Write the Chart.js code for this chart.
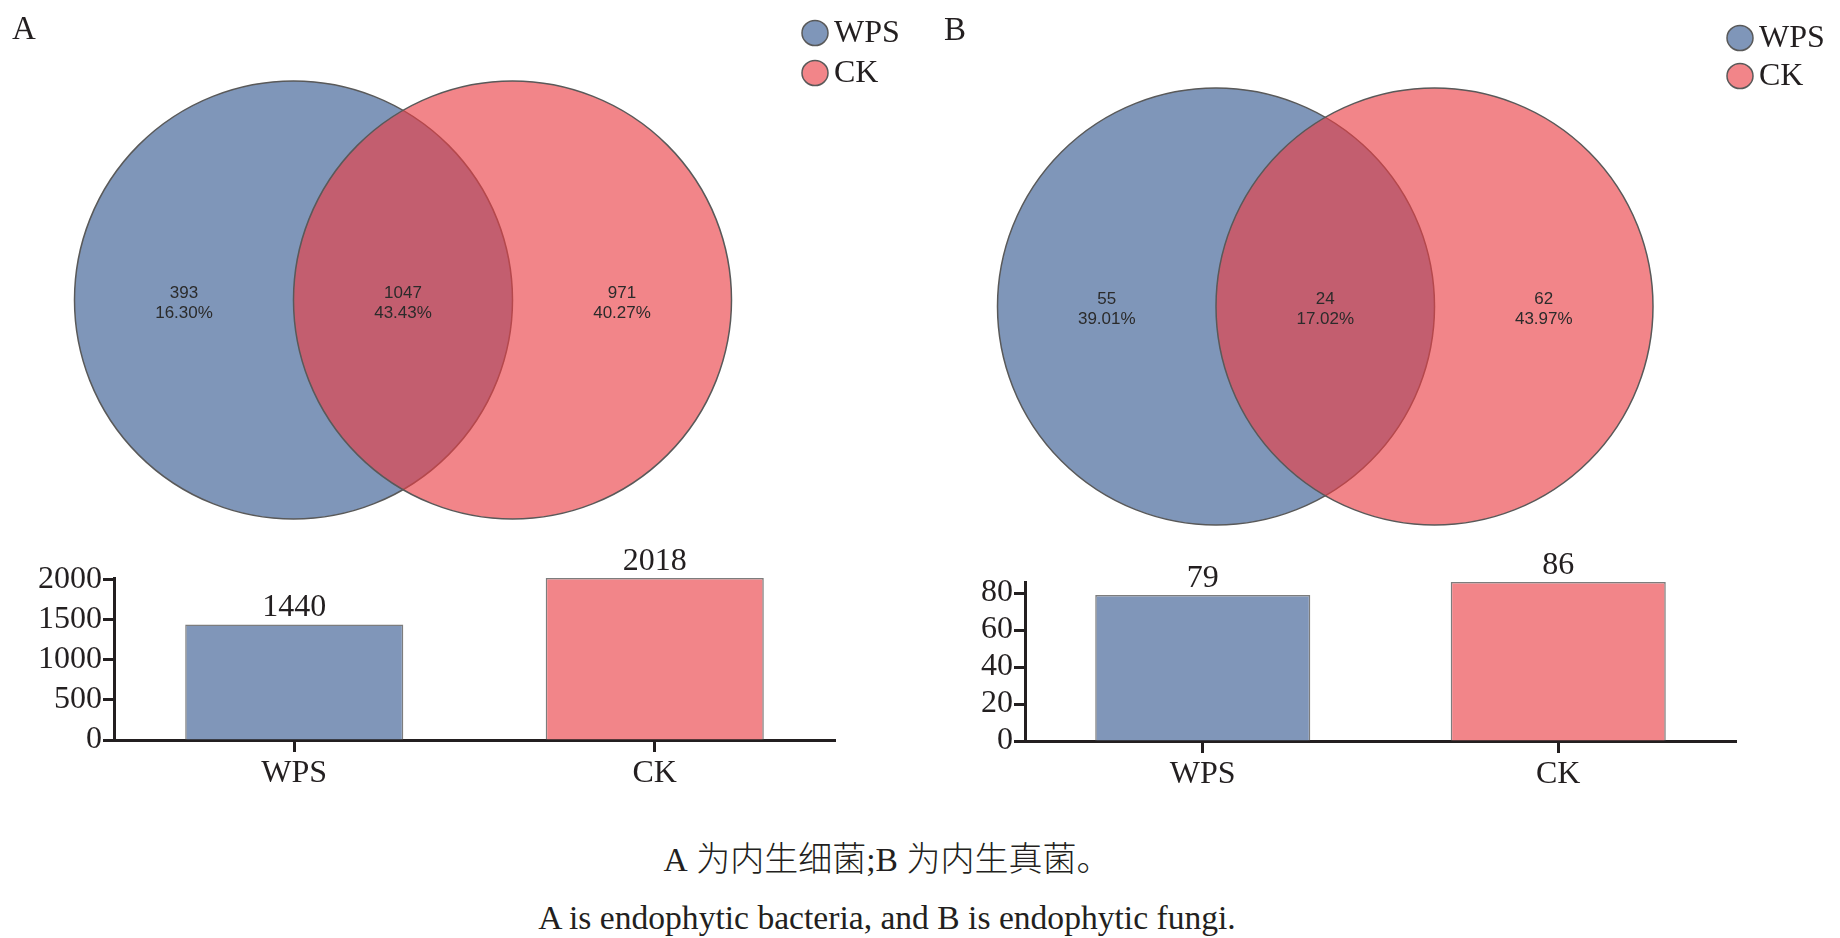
<!DOCTYPE html>
<html>
<head>
<meta charset="utf-8">
<script src="https://cdn.jsdelivr.net/npm/chart.js@4.4.1/dist/chart.umd.min.js"></script>
<style>
  body { margin: 0; background: #fff; width: 1840px; height: 938px; overflow: hidden; position: relative; }
  .box { position: absolute; }
  .cap {
    position: absolute; left: 0; width: 1774px; text-align: center; white-space: nowrap;
    font-family: "Liberation Serif", "Noto Sans CJK SC", serif; color: #231f20;
    font-size: 33.6px; line-height: 40px;
  }
  .cap .zh { font-family: "Noto Sans CJK SC", sans-serif; font-size: 34px; font-weight: 300; }
</style>
</head>
<body>
<div class="box" style="left:0;top:0;width:920px;height:545px"><canvas id="vennA"></canvas></div>
<div class="box" style="left:920px;top:0;width:920px;height:545px"><canvas id="vennB"></canvas></div>
<div class="box" style="left:0;top:540px;width:860px;height:260px"><canvas id="barA"></canvas></div>
<div class="box" style="left:920px;top:540px;width:840px;height:260px"><canvas id="barB"></canvas></div>
<div class="cap" style="top:837px">A&nbsp;<span class="zh">为内生细菌</span>;B&nbsp;<span class="zh">为内生真菌。</span></div>
<div class="cap" style="top:898px">A is endophytic bacteria, and B is endophytic fungi.</div>

<script>
// groups, same order everywhere
const groups = ['WPS', 'CK'];

// Venn counts: [WPS only, shared, CK only]
const vennA = [393, 1047, 971];
const vennB = [55, 24, 62];

// circle centres in radius units (touching centre-to-edge)
const circleX = [0, 1];

// y-axis tick labels of the bar panels
const yTicksA = [0, 500, 1000, 1500, 2000];
const yTicksB = [0, 20, 40, 60, 80];

const SERIF = '"Liberation Serif", "Times New Roman", serif';
const SANS = '"Liberation Sans", Arial, sans-serif';
const INK = '#231f20';
const vennFill = ['rgba(53,88,144,0.63)', 'rgba(234,61,68,0.63)'];
const barFill = ['#8096b9', '#f28589'];
const edge = '#595959';

Chart.defaults.font.family = SERIF;
Chart.defaults.color = INK;

function totals(counts) {
  // WPS = only + shared, CK = shared + only
  return [counts[0] + counts[1], counts[1] + counts[2]];
}

/**
 * Venn drawn as two scatter points whose radius follows the x scale
 */
function makeVenn(id, counts, g) {
  const sum = counts.reduce((a, b) => a + b, 0);
  const regionX = [
    (circleX[0] - 1 + circleX[1] - 1) / 2,
    (circleX[0] + 1 + circleX[1] - 1) / 2,
    (circleX[0] + 1 + circleX[1] + 1) / 2,
  ];
  const unitPx = (ctx) => {
    const s = ctx.chart.scales.x;
    return s.getPixelForValue(1) - s.getPixelForValue(0);
  };

  const vennText = {
    id: 'vennText',
    afterDatasetsDraw(chart) {
      const { ctx, scales: { x, y } } = chart;
      ctx.save();
      // region counts and shares
      ctx.fillStyle = '#2b2b2b';
      ctx.font = `17px ${SANS}`;
      ctx.textAlign = 'center';
      ctx.textBaseline = 'middle';
      counts.forEach((c, i) => {
        const px = x.getPixelForValue(regionX[i]);
        const py = y.getPixelForValue(0);
        ctx.fillText(String(c), px, py - 7);
        ctx.fillText((c / sum * 100).toFixed(2) + '%', px, py + 13);
      });
      // panel tag
      ctx.fillStyle = INK;
      ctx.font = `33px ${SERIF}`;
      ctx.textAlign = 'left';
      ctx.fillText(g.tag, g.tagX, g.tagY);
      // legend
      groups.forEach((name, i) => {
        const ly = g.legendY + i * g.legendGap;
        ctx.beginPath();
        ctx.ellipse(g.legendX, ly, 13, 12.5, 0, 0, Math.PI * 2);
        ctx.fillStyle = vennFill[i];
        ctx.fill();
        ctx.lineWidth = 1.5;
        ctx.strokeStyle = edge;
        ctx.stroke();
        ctx.fillStyle = INK;
        ctx.font = `32px ${SERIF}`;
        ctx.fillText(name, g.legendX + 19, ly + 1);
      });
      ctx.restore();
    }
  };

  return new Chart(document.getElementById(id), {
    type: 'scatter',
    data: {
      datasets: [{
        data: circleX.map(cx => ({ x: cx, y: 0 })),
        backgroundColor: vennFill,
        borderColor: edge,
        borderWidth: 1.5,
        pointRadius: unitPx,
        pointHoverRadius: unitPx,
        clip: false,
      }]
    },
    options: {
      responsive: true,
      maintainAspectRatio: false,
      animation: false,
      events: [],
      layout: { padding: 0 },
      plugins: { legend: { display: false }, tooltip: { enabled: false } },
      scales: {
        x: { type: 'linear', display: false, min: -g.cx / g.unit, max: (g.w - g.cx) / g.unit },
        y: { type: 'linear', display: false, min: -(g.h - g.cy) / g.unit, max: g.cy / g.unit },
      }
    },
    plugins: [vennText]
  });
}

/**
 * Bar panel with the totals printed above each bar
 */
function makeBar(id, values, ticks, g) {
  const barValues = {
    id: 'barValues',
    afterDatasetsDraw(chart) {
      const { ctx } = chart;
      const meta = chart.getDatasetMeta(0);
      ctx.save();
      ctx.fillStyle = INK;
      ctx.font = `32px ${SERIF}`;
      ctx.textAlign = 'center';
      ctx.textBaseline = 'alphabetic';
      meta.data.forEach((bar, i) => {
        ctx.fillText(String(values[i]), bar.x, bar.y - 8);
      });
      ctx.restore();
    }
  };

  return new Chart(document.getElementById(id), {
    type: 'bar',
    data: {
      labels: groups,
      datasets: [{
        data: values,
        backgroundColor: barFill,
        borderColor: '#7d7d7d',
        borderWidth: 1.5,
        barPercentage: 0.605,
        categoryPercentage: 1,
      }]
    },
    options: {
      responsive: true,
      maintainAspectRatio: false,
      animation: false,
      events: [],
      layout: { padding: { top: g.top, right: g.right, left: 0, bottom: 0 } },
      plugins: { legend: { display: false }, tooltip: { enabled: false } },
      scales: {
        x: {
          grid: { offset: false, drawOnChartArea: false, tickLength: 12, tickWidth: 3, tickColor: INK },
          border: { display: true, width: 3, color: INK },
          ticks: { color: INK, font: { size: 32, family: SERIF }, padding: 2, maxRotation: 0 },
          afterFit: (s) => { s.height = g.xh; },
        },
        y: {
          min: 0,
          max: Math.max(...values),
          grid: { drawOnChartArea: false, tickLength: 11, tickWidth: 3, tickColor: INK },
          border: { display: true, width: 3, color: INK },
          ticks: {
            color: INK, font: { size: 32, family: SERIF }, padding: 1,
            autoSkip: false,
            callback: (v) => String(v),
          },
          afterBuildTicks: (axis) => { axis.ticks = ticks.map(v => ({ value: v })); },
          afterFit: (s) => { s.width = g.yw; },
        }
      }
    },
    plugins: [barValues]
  });
}

makeVenn('vennA', vennA, {
  cx: 293.5, cy: 300, unit: 219, w: 920, h: 545,
  legendX: 815, legendY: 33, legendGap: 40, tag: 'A', tagX: 12, tagY: 30,
});
makeVenn('vennB', vennB, {
  cx: 296, cy: 306.5, unit: 218.5, w: 920, h: 545,
  legendX: 820, legendY: 38, legendGap: 38, tag: 'B', tagX: 24, tagY: 31,
});
makeBar('barA', totals(vennA), yTicksA, { top: 38, right: 25, yw: 114, xh: 60 });
makeBar('barB', totals(vennB), yTicksB, { top: 42, right: 24, yw: 105, xh: 59 });
</script>
</body>
</html>
